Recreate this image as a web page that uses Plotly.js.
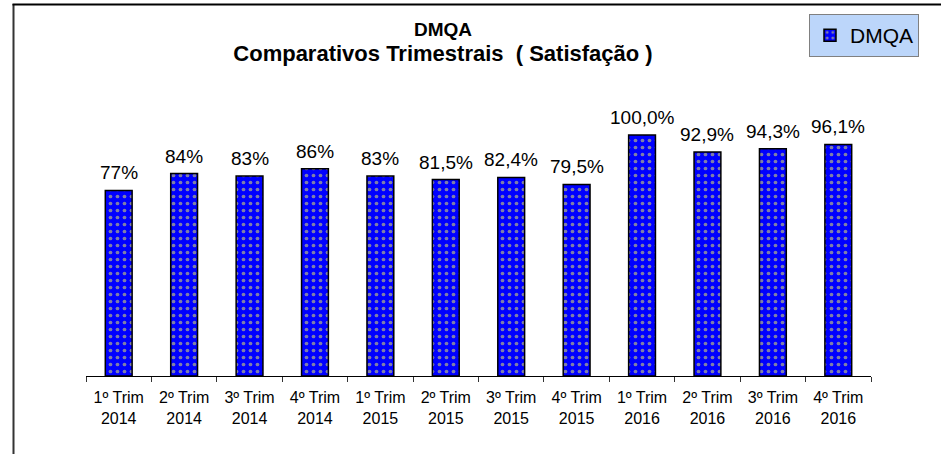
<!DOCTYPE html>
<html>
<head>
<meta charset="utf-8">
<script src="https://cdn.plot.ly/plotly-3.0.1.min.js"></script>
<style>html,body{margin:0;padding:0;background:#fff;}#chart{width:941px;height:454px;}</style>
</head>
<body>
<div id="chart"></div>
<script>
var categories = ["1º Trim<br>2014","2º Trim<br>2014","3º Trim<br>2014","4º Trim<br>2014",
                  "1º Trim<br>2015","2º Trim<br>2015","3º Trim<br>2015","4º Trim<br>2015",
                  "1º Trim<br>2016","2º Trim<br>2016","3º Trim<br>2016","4º Trim<br>2016"];
var values = [77, 84, 83, 86, 83, 81.5, 82.4, 79.5, 100, 92.9, 94.3, 96.1];
var valueLabels = ["77%","84%","83%","86%","83%","81,5%","82,4%","79,5%","100,0%","92,9%","94,3%","96,1%"];
var seriesName = "DMQA";

var W = 941, H = 454;
var mL = 86, mR = 70, mT = 95, mB = 78;
var pw = W - mL - mR, ph = H - mT - mB;
function px2x(p){ return (p - mL) / pw; }
function py2y(p){ return (H - mB - p) / ph; }

var font = "Arial, 'Liberation Sans', sans-serif";

var trace = {
  type: 'bar',
  x: categories,
  y: values,
  name: seriesName,
  marker: {
    color: '#0000ff',
    line: {color: '#000000', width: 1.5},
    pattern: {shape: '.', bgcolor: '#0000ff', fgcolor: '#7f7fa8', size: 7, solidity: 0.22}
  },
  hoverinfo: 'skip'
};

var annotations = categories.map(function(c, i){
  return {x: c, y: values[i], xref: 'x', yref: 'y', text: valueLabels[i], showarrow: false,
          yanchor: 'bottom', yshift: 5, font: {family: font, size: 19, color: '#000'}};
});

var layout = {
  width: W, height: H,
  margin: {l: mL, r: mR, t: mT, b: mB, pad: 0, autoexpand: false},
  paper_bgcolor: '#fff', plot_bgcolor: '#fff',
  font: {family: font, color: '#000'},
  title: {
    text: '<b>DMQA</b><br><b><span style="font-size:22px">Comparativos Trimestrais  ( Satisfação )</span></b>',
    font: {family: font, size: 19, color: '#000'},
    xref: 'container', x: 443 / W, xanchor: 'center',
    yref: 'container', y: 1 - 36 / H, yanchor: 'top'
  },
  bargap: 0.59,
  xaxis: {
    showline: true, linecolor: '#000', linewidth: 1,
    ticks: 'outside', tickson: 'boundaries', ticklen: 5, tickcolor: '#333', tickwidth: 1,
    ticklabelstandoff: 7,
    tickfont: {family: font, size: 16, color: '#000'},
    showgrid: false, zeroline: false, fixedrange: true, automargin: false
  },
  yaxis: {visible: false, range: [0, 116.6], showgrid: false, zeroline: false, fixedrange: true},
  showlegend: true,
  legend: {
    xref: 'container', yref: 'container',
    x: 809 / W, y: 1 - 14 / H, xanchor: 'left', yanchor: 'top',
    bgcolor: '#bcd6fa', bordercolor: '#808080', borderwidth: 1,
    font: {family: font, size: 21, color: '#000'},
    itemwidth: 30
  },
  annotations: annotations,
  shapes: [
    {type: 'line', xref: 'paper', yref: 'paper', x0: px2x(13.5), x1: px2x(13.5), y0: py2y(4), y1: py2y(460),
     line: {color: '#333', width: 2}, layer: 'above'},
    {type: 'line', xref: 'paper', yref: 'paper', x0: px2x(12.5), x1: px2x(945), y0: py2y(4.5), y1: py2y(4.5),
     line: {color: '#000', width: 2}, layer: 'above'}
  ]
};

Plotly.newPlot('chart', [trace], layout, {displayModeBar: false, staticPlot: true});
</script>
</body>
</html>
